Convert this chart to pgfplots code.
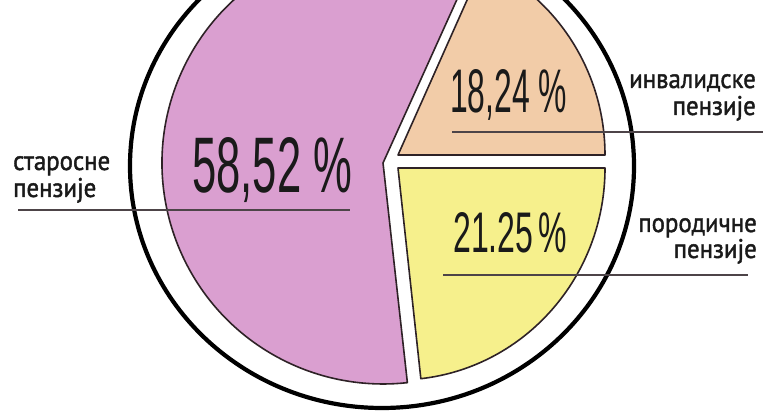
\documentclass[border=0pt]{standalone}
\usepackage{pgfplots}
\pgfplotsset{compat=1.18}
\usepackage{graphicx}
\usepackage{fontspec}
\setmainfont{PT Sans}
\newfontfamily\labfont[FakeBold=1.6]{PT Sans}
\newfontfamily\numfont{Liberation Sans}
\definecolor{cMag}{HTML}{DA9FD0}
\definecolor{cTan}{HTML}{F2CCA8}
\definecolor{cYel}{HTML}{F6F08C}
\definecolor{cEdge}{HTML}{2E2226}
\definecolor{cLine}{HTML}{4D4448}
\definecolor{cTxt}{HTML}{1A1A1A}
% data (percent)
\def\vInv{18.24}  % инвалидске пензије
\def\vSta{58.52}  % старосне пензије
\def\vPor{21.25}  % породичне пензије
\newcommand{\lab}[1]{\scalebox{0.92}[1]{\labfont #1}}
\begin{document}
\begin{tikzpicture}
\pgfmathsetmacro{\aA}{3.6*\vInv}
\pgfmathsetmacro{\aB}{\aA+3.6*\vSta}
\begin{axis}[hide axis, scale only axis, width=763pt, height=411pt,
  xmin=0, xmax=763, ymin=0, ymax=411, clip=true]
% outer ring
\draw[line width=4.2pt, black] (382,245) ellipse [x radius=252, y radius=242];
% slices
\filldraw[fill=cMag, draw=cEdge, line width=1.6pt, line join=round]
  (383,248) -- +(\aA:221 and 221) arc[start angle=\aA, end angle=\aB, x radius=221, y radius=221] -- cycle;
\filldraw[fill=cTan, draw=cEdge, line width=1.6pt, line join=round]
  (398,256) -- +(0:207 and 210) arc[start angle=0, end angle=\aA, x radius=207, y radius=210] -- cycle;
\filldraw[fill=cYel, draw=cEdge, line width=1.6pt, line join=round]
  (398,243) -- +(\aB:207 and 212) arc[start angle=\aB, end angle=360, x radius=207, y radius=212] -- cycle;
% leader lines
\addplot[cLine, line width=2.5pt] coordinates {(18,201) (350,201)};
\addplot[cLine, line width=2.5pt] coordinates {(452,279) (763,279)};
\addplot[cLine, line width=2.5pt] coordinates {(443,136) (748,136)};
% values
\node[anchor=base west, inner sep=0pt, text=cTxt] at (192,218) {\resizebox{160pt}{55pt}{\numfont 58,52 \%}};
\node[anchor=base west, inner sep=0pt, text=cTxt] at (450,298) {\resizebox{117pt}{43pt}{\numfont 18,24 \%}};
\node[anchor=base west, inner sep=0pt, text=cTxt] at (453,158) {\resizebox{114pt}{40pt}{\numfont 21.25\,\%}};
% labels
\node[anchor=base west, inner sep=0pt, text=cTxt, font=\fontsize{27}{29}\selectfont] at (13,241) {\lab{старосне}};
\node[anchor=base west, inner sep=0pt, text=cTxt, font=\fontsize{27}{29}\selectfont] at (13,214) {\lab{пензије}};
\node[anchor=base east, inner sep=0pt, text=cTxt, font=\fontsize{27}{29}\selectfont] at (756,323) {\lab{инвалидске}};
\node[anchor=base east, inner sep=0pt, text=cTxt, font=\fontsize{27}{29}\selectfont] at (756,296) {\lab{пензије}};
\node[anchor=base east, inner sep=0pt, text=cTxt, font=\fontsize{27}{29}\selectfont] at (757,179) {\lab{породичне}};
\node[anchor=base east, inner sep=0pt, text=cTxt, font=\fontsize{27}{29}\selectfont] at (757,153) {\lab{пензије}};
\end{axis}
\pgfresetboundingbox
\useasboundingbox (current axis.south west) rectangle (current axis.north east);
\end{tikzpicture}
\end{document}
